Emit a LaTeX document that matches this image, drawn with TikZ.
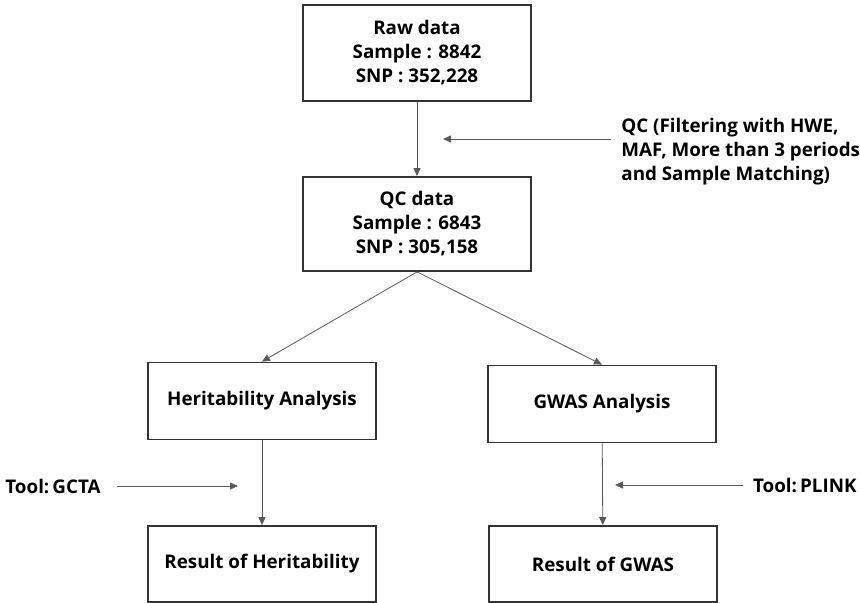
\documentclass[tikz,border=0pt]{standalone}
\usepackage{fontspec}
\setmainfont{Open Sans}
\usetikzlibrary{arrows.meta}
\begin{document}
\begin{tikzpicture}[x=.5pt,y=-.5pt,line width=.4pt,font=\bfseries\fontsize{9.4}{12}\selectfont,
 box/.style={draw=black!80,line width=.9pt,minimum width=114pt,align=center,inner sep=0pt},
 note/.style={inner sep=0pt,align=left,anchor=west},
 link/.style={draw=black!65,-{Triangle[length=4pt,width=3.5pt]}}]
 \useasboundingbox (0,0) rectangle (860,603);
 \node[box,minimum height=48pt] (raw) at (417,53) {Raw data\\Sample : 8842\\SNP : 352,228};
 \node[box,minimum height=47pt] (qc) at (417,224) {QC data\\Sample : 6843\\SNP : 305,158};
 \node[box,minimum height=38.5pt] (her) at (262,401) {Heritability Analysis};
 \node[box,minimum height=38.5pt] (gwas) at (602,404) {GWAS Analysis};
 \node[box,minimum height=38pt] (rher) at (262,564) {Result of Heritability};
 \node[box,minimum height=38pt] (rgwas) at (603,564) {Result of GWAS};
 % side notes
 \node[note] (qcnote) at (621,152) {QC (Filtering with HWE,\\MAF, More than 3 periods\\and Sample Matching)};
 \node[note] (gcta) at (5,486) {Tool:\,GCTA};
 \node[note,anchor=east] (plink) at (857,485) {Tool:\,PLINK};
 \coordinate (qcin) at (443,139);
 \coordinate (gctain) at (238,486);
 \coordinate (plinkin) at (615,485);
 \draw[link] (raw) -- (qc);
 \draw[link] (qc.south) -- (her.north);
 \draw[link] (qc.south) -- (gwas.north);
 \draw[link] (her) -- (rher);
 \draw[link] (gwas) -- (rgwas);
 \draw[link] ([xshift=-5pt]qcnote.west |- qcin) -- (qcin);
 \draw[link] ([xshift=8pt]gcta.east) -- (gctain);
 \draw[link] ([xshift=-5pt]plink.west) -- (plinkin);
\end{tikzpicture}
\end{document}
